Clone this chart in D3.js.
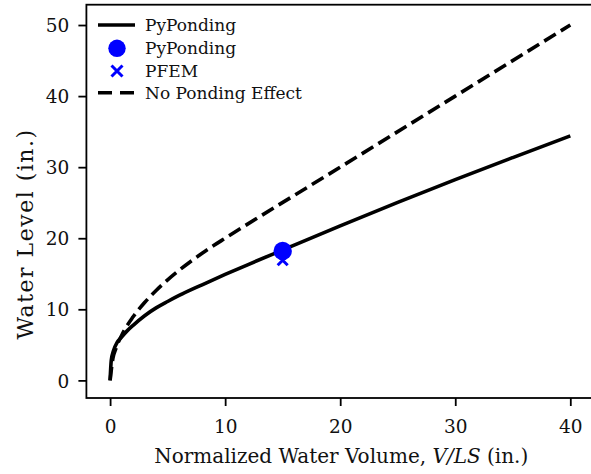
<!DOCTYPE html>
<html>
<head>
<meta charset="utf-8">
<script src="https://cdn.jsdelivr.net/npm/d3@7"></script>
<style>
  body { margin: 0; background: #fff; }
  svg { display: block; }
  svg text { font-family: "DejaVu Serif", serif; }
</style>
</head>
<body>
<div id="chart"></div>
<script>
// Dados
const solidVolume = [0, 0.1, 0.3, 0.6, 1, 1.5, 2, 3, 4, 5, 6, 8, 10, 12, 15, 20, 25, 30, 35, 40];
const solidLevel  = [0, 2.8, 4.2, 5.3, 6.1, 7.0, 7.75, 9.1, 10.2, 11.1, 11.95, 13.45, 14.9, 16.3, 18.35, 21.75, 25.05, 28.25, 31.35, 34.4];

const noPondVolume = [0, 0.25, 0.5, 1, 2, 3, 4, 5, 6, 7, 8, 9, 10, 20, 30, 40];
const noPondLevel  = [0, 3.16, 4.47, 6.32, 8.94, 10.95, 12.65, 14.14, 15.49, 16.73, 17.89, 18.97, 20, 30, 40, 50];

const pyPondingPoint = [{ v: 15, h: 18.2 }];
const pfemPoint = [{ v: 15, h: 16.9 }];

const xTicks = [0, 10, 20, 30, 40];
const yTicks = [0, 10, 20, 30, 40, 50];

const legendLabels = ['PyPonding', 'PyPonding', 'PFEM', 'No Ponding Effect'];

const W = 591, H = 474;
const plot = { left: 86.4, right: 594, top: 4.7, bottom: 398 };
const FONT = '"DejaVu Serif", serif';
const INK = '#111';

const svg = d3.select('#chart').append('svg')
    .attr('width', W)
    .attr('height', H);

const x = d3.scaleLinear().domain([-2.06, 42.06]).range([plot.left, plot.right]);
const y = d3.scaleLinear().domain([-2.48, 52.86]).range([plot.bottom, plot.top]);

const solidData = solidVolume.map((v, i) => ({ v, h: solidLevel[i] }));
const noPondData = noPondVolume.map((v, i) => ({ v, h: noPondLevel[i] }));

const line = d3.line()
    .x(d => x(d.v))
    .y(d => y(d.h))
    .curve(d3.curveMonotoneX);

// Curvas
svg.append('path')
    .attr('d', line(solidData))
    .attr('fill', 'none')
    .attr('stroke', '#000')
    .attr('stroke-width', 3.6);

svg.append('path')
    .attr('d', line(noPondData))
    .attr('fill', 'none')
    .attr('stroke', '#000')
    .attr('stroke-width', 3.6)
    .attr('stroke-dasharray', '13.5,6');

// Marcadores
const xMark = (g, s) => {
    g.append('path')
        .attr('d', `M${-s},${-s}L${s},${s}M${-s},${s}L${s},${-s}`)
        .attr('stroke', '#0000ff')
        .attr('stroke-width', 3)
        .attr('fill', 'none');
};

svg.selectAll('.pfem')
    .data(pfemPoint)
    .enter()
    .append('g')
    .attr('class', 'pfem')
    .attr('transform', d => `translate(${x(d.v)},${y(d.h)})`)
    .each(function() { xMark(d3.select(this), 5); });

svg.selectAll('.pyp')
    .data(pyPondingPoint)
    .enter()
    .append('circle')
    .attr('class', 'pyp')
    .attr('cx', d => x(d.v))
    .attr('cy', d => y(d.h))
    .attr('r', 9.2)
    .attr('fill', '#0000ff');

// Eixos (moldura)
svg.append('rect')
    .attr('x', plot.left)
    .attr('y', plot.top)
    .attr('width', plot.right - plot.left)
    .attr('height', plot.bottom - plot.top)
    .attr('fill', 'none')
    .attr('stroke', '#000')
    .attr('stroke-width', 1.8);

const xAxis = svg.append('g')
    .attr('transform', `translate(0,${plot.bottom})`)
    .call(d3.axisBottom(x).tickValues(xTicks).tickSizeOuter(0).tickSize(8).tickPadding(8));

const yAxis = svg.append('g')
    .attr('transform', `translate(${plot.left},0)`)
    .call(d3.axisLeft(y).tickValues(yTicks).tickSizeOuter(0).tickSize(8).tickPadding(9));

[xAxis, yAxis].forEach(ax => {
    ax.attr('font-family', null).attr('font-size', null);
    ax.select('.domain').remove();
    ax.selectAll('.tick line').attr('stroke', '#000').attr('stroke-width', 1.8);
    ax.selectAll('.tick text')
        .attr('fill', INK)
        .style('font-family', FONT)
        .style('font-size', '18.5px');
});
xAxis.selectAll('.tick text').attr('dy', null).attr('y', 35);
yAxis.selectAll('.tick text').attr('dy', '0.36em');

// Rótulos dos eixos
const xLabel = svg.append('text')
    .attr('x', (plot.left + plot.right) / 2 + 1)
    .attr('y', 463)
    .attr('text-anchor', 'middle')
    .attr('fill', INK)
    .style('font-family', FONT)
    .style('font-size', '20px');
xLabel.append('tspan').text('Normalized Water Volume, ');
xLabel.append('tspan').style('font-style', 'italic').text('V/LS');
xLabel.append('tspan').text(' (in.)');

svg.append('text')
    .attr('transform', 'translate(33,234) rotate(-90)')
    .attr('text-anchor', 'middle')
    .attr('fill', INK)
    .style('font-family', FONT)
    .style('font-size', '22px')
    .style('letter-spacing', '1.5px')
    .text('Water Level (in.)');

// Legenda
const legendY = [25, 48.3, 71, 92.7];
const legend = svg.append('g').attr('class', 'legend');

legend.append('line')
    .attr('x1', 98).attr('x2', 135)
    .attr('y1', legendY[0]).attr('y2', legendY[0])
    .attr('stroke', '#000').attr('stroke-width', 3.6);

legend.append('circle')
    .attr('cx', 117).attr('cy', legendY[1])
    .attr('r', 8.7)
    .attr('fill', '#0000ff');

legend.append('g')
    .attr('transform', `translate(117,${legendY[2]})`)
    .each(function() { xMark(d3.select(this), 5.5); });

legend.append('line')
    .attr('x1', 98).attr('x2', 135)
    .attr('y1', legendY[3]).attr('y2', legendY[3])
    .attr('stroke', '#000').attr('stroke-width', 3.6)
    .attr('stroke-dasharray', '14,8');

legend.selectAll('.legend-text')
    .data(legendLabels)
    .enter()
    .append('text')
    .attr('class', 'legend-text')
    .attr('x', 145)
    .attr('y', (d, i) => legendY[i] + 6)
    .attr('fill', INK)
    .style('font-family', FONT)
    .style('font-size', '17px')
    .text(d => d);
</script>
</body>
</html>
